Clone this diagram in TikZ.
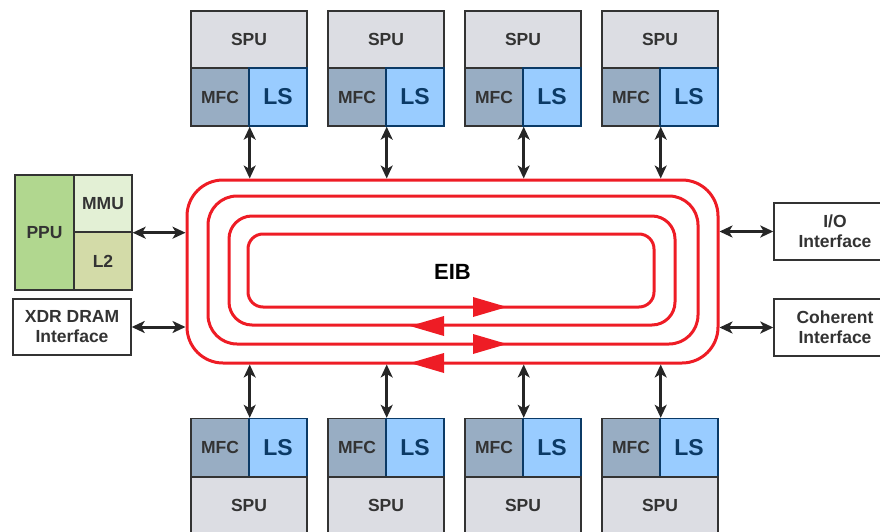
\documentclass[tikz,border=0pt]{standalone}
\usepackage{fontspec}
\setmainfont{Liberation Sans}
\usetikzlibrary{arrows.meta}

\definecolor{spugray}{HTML}{DCDDE3}
\definecolor{mfcblue}{HTML}{98ADC3}
\definecolor{lsblue}{HTML}{99CCFF}
\definecolor{lsnavy}{HTML}{0B3A66}
\definecolor{ppugreen}{HTML}{B1D78F}
\definecolor{mmugreen}{HTML}{E3F0D5}
\definecolor{ltwogreen}{HTML}{D3DBA8}
\definecolor{eibred}{HTML}{EE1C25}
\definecolor{boxline}{HTML}{333333}

\tikzset{
	unit/.style = {draw = boxline, line width = 1.4pt, inner sep = 0pt,
		text = boxline, font = \bfseries\fontsize{17.5}{20}\selectfont},
	spubox/.style = {unit, fill = spugray, minimum width = 116pt, minimum height = 57pt},
	mfcbox/.style = {unit, fill = mfcblue, minimum width = 58pt, minimum height = 58pt},
	lsbox/.style = {unit, draw = lsnavy, fill = lsblue, text = lsnavy,
		minimum width = 58pt, minimum height = 58pt,
		font = \bfseries\fontsize{23}{25}\selectfont},
	iobox/.style = {unit, fill = white, align = center, minimum height = 57pt},
	link/.style = {draw = black!85, line width = 3pt,
		{Stealth[length=13pt,width=12pt,inset=3.5pt]}-{Stealth[length=13pt,width=12pt,inset=3.5pt]}},
	ring/.style = {draw = eibred, line width = 3pt},
	flow/.style = {fill = eibred}
}

\begin{document}
\begin{tikzpicture}[x=1pt, y=-1pt]
	\useasboundingbox (0,0) rectangle (880,532);
	% element interconnect bus
	\node[ring, rounded corners = 36pt, minimum width = 531pt, minimum height = 183pt,
		font = \bfseries\fontsize{22}{24}\selectfont] (eib) at (452.5,271.5) {EIB};
	\draw[ring, rounded corners = 29pt] (208,196) rectangle (698,344);
	\draw[ring, rounded corners = 23pt] (229,216) rectangle (675,325);
	\draw[ring, rounded corners = 15pt] (248,234) rectangle (654,307);
	\fill[flow] (473,297) -- (507,307) -- (473,317) -- cycle;
	\fill[flow] (444,316) -- (410,326) -- (444,336) -- cycle;
	\fill[flow] (473,334) -- (507,344) -- (473,354) -- cycle;
	\fill[flow] (444,353) -- (410,363) -- (444,373) -- cycle;
	% synergistic units, top and bottom
	\foreach \i in {1,...,4} {
		\pgfmathsetmacro\xl{191+137*(\i-1)}
		\node[spubox] (spuT\i) at (\xl+58,39.5) {SPU};
		\node[mfcbox] (mfcT\i) at (\xl+29,97) {MFC};
		\node[lsbox] (lsT\i) at (\xl+87,97) {LS};
		\draw[link] (mfcT\i.south east) -- (mfcT\i.south east |- eib.north);
		\node[mfcbox] (mfcB\i) at (\xl+29,447.5) {MFC};
		\node[lsbox] (lsB\i) at (\xl+87,447.5) {LS};
		\node[spubox] (spuB\i) at (\xl+58,505.5) {SPU};
		\draw[link] (mfcB\i.north east |- eib.south) -- (mfcB\i.north east);
	}
	% power processor and interfaces
	\node[unit, fill = ppugreen, minimum width = 59pt, minimum height = 115pt] (ppu) at (44.5,232.5) {PPU};
	\node[unit, fill = mmugreen, minimum width = 58pt, minimum height = 57pt] (mmu) at (103,203.5) {MMU};
	\node[unit, fill = ltwogreen, minimum width = 58pt, minimum height = 58pt] (ltwo) at (103,261) {L2};
	\node[iobox, minimum width = 118pt, minimum height = 56pt] (xdr) at (72,327) {XDR DRAM\\Interface};
	\node[iobox, minimum width = 122pt] (io) at (835,231.5) {I/O\\Interface};
	\node[iobox, minimum width = 122pt] (coh) at (835,327.5) {Coherent\\Interface};
	\draw[link] (mmu.south east) -- (mmu.south east -| eib.west);
	\draw[link] (xdr.east) -- (xdr.east -| eib.west);
	\draw[link] (io.west -| eib.east) -- (io.west);
	\draw[link] (coh.west -| eib.east) -- (coh.west);
\end{tikzpicture}
\end{document}
